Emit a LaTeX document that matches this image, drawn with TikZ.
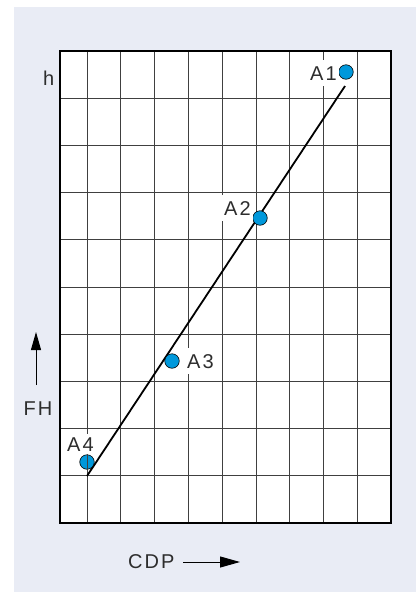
\documentclass[tikz,border=0pt]{standalone}
\usepackage{fontspec}
\setmainfont{Liberation Sans}
\newfontfamily\lblfont[LetterSpace=10]{Liberation Sans}
\usetikzlibrary{arrows.meta}
\definecolor{bgc}{RGB}{233,236,245}
\definecolor{dotc}{RGB}{0,152,219}
\definecolor{txt}{RGB}{45,45,45}
\begin{document}
\begin{tikzpicture}[x=1pt,y=-1pt,
  lbl/.style={font=\lblfont\fontsize{20}{24}\selectfont, text=txt, inner sep=0pt},
  tag/.style={lbl, fill=white, inner xsep=2pt, inner ysep=6pt},
  dot/.style={circle, fill=dotc, draw=black, line width=0.6pt, minimum size=14.5pt, inner sep=0pt},
  gridline/.style={black!75, line width=1pt},
  frameline/.style={black, line width=2pt},
  fitline/.style={black, line width=1.8pt},
  axisarrow/.style={black, line width=1pt}]
\useasboundingbox (0,0) rectangle (416,592);
\fill[bgc] (14,7) rectangle (416,592);
\fill[white] (60,51) rectangle (391,523);
% grid
\foreach \x in {87,120.8,154.6,188.4,222.2,256,289.8,323.6,357.4}
  \draw[gridline] (\x,51) -- (\x,523);
\foreach \y in {98.2,145.4,192.6,239.8,287,334.2,381.4,428.6,475.8}
  \draw[gridline] (60,\y) -- (391,\y);
\draw[frameline] (60,51) rectangle (391,523);
% fit line
\coordinate (r0) at (87,476);
\coordinate (r1) at (345,86);
\draw[fitline] (r0) -- (r1);
% points
\node[dot] (d1) at (346,72) {};
\node[dot] (d2) at (260,218) {};
\node[dot] (d3) at (172,361) {};
\node[dot] (d4) at (87,462) {};
\draw[gridline] (d4.north) -- (d4.south);
% point labels
\node[tag, anchor=base west] (t1) at (308,80) {A1};
\node[tag, anchor=base west] (t2) at (222,215) {A2};
\node[tag, anchor=base west] (t3) at (185,368) {A3};
\node[tag, anchor=base west, inner ysep=3pt] (t4) at (65,451) {A4};
% axis labels
\node[lbl, anchor=base west] (h) at (43,85) {h};
\node[lbl, anchor=base west] (fh) at (23.5,415) {FH};
\node[lbl, anchor=base west] (cdp) at (128,568) {CDP};
\coordinate (fha) at (36,385);
\coordinate (fhb) at (36,332);
\draw[axisarrow, -{Triangle[length=18pt,width=10pt]}] (fha) -- (fhb);
\coordinate (cda) at (183,562);
\coordinate (cdb) at (240,562);
\draw[axisarrow, -{Triangle[length=20pt,width=11pt]}] (cda) -- (cdb);
\end{tikzpicture}
\end{document}
